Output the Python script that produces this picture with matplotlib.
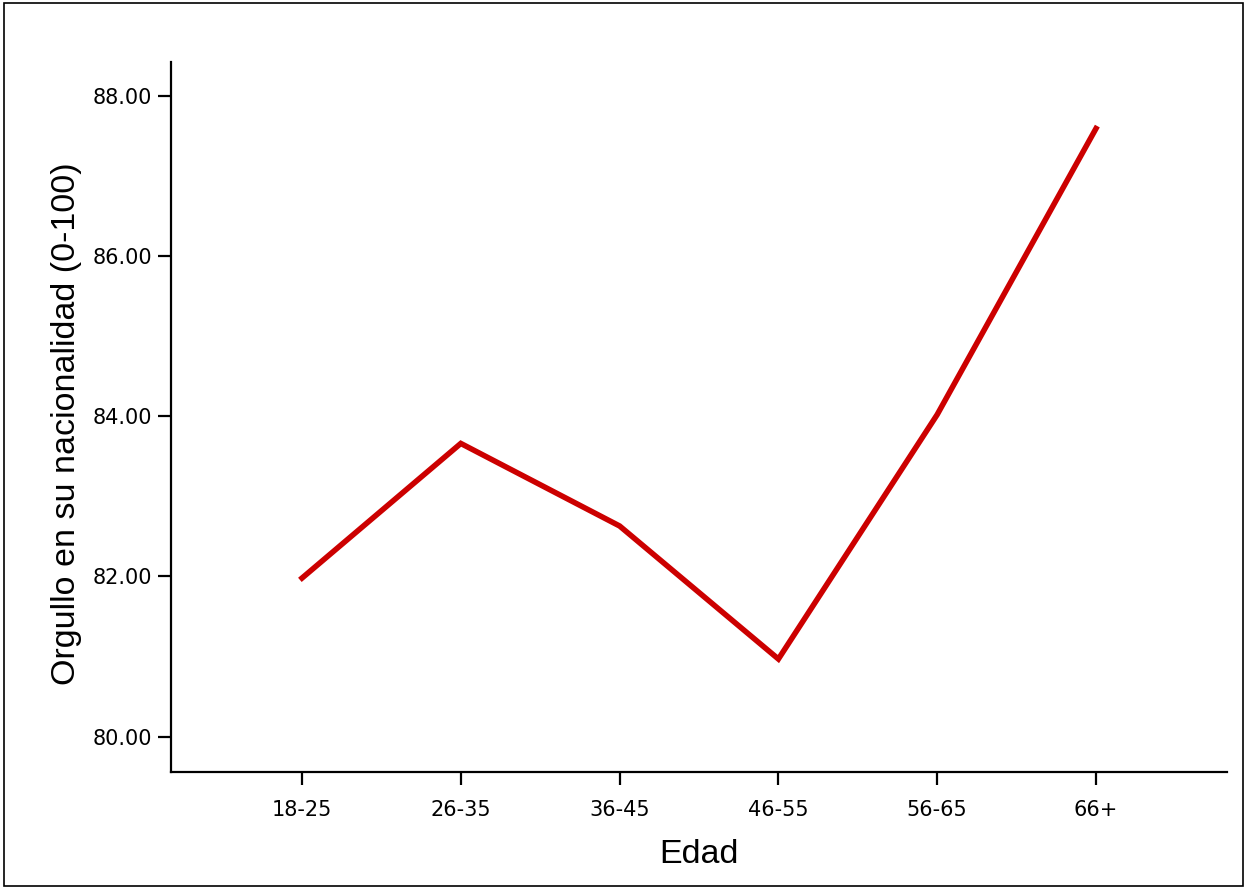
import matplotlib.pyplot as plt
from matplotlib.patches import Rectangle

# age groups and mean national pride score
edades = ['18-25', '26-35', '36-45', '46-55', '56-65', '66+']
orgullo = [81.98, 83.66, 82.63, 80.97, 84.02, 87.59]
y_ticks = [80, 82, 84, 86, 88]

fig = plt.figure(figsize=(12.47, 8.88), dpi=100)
ax = fig.add_axes([171/1247, 116/888, 1056/1247, 710/888])

x = list(range(len(edades)))
ax.plot(x, orgullo, color='#CC0000', linewidth=4.0, solid_joinstyle='miter')

ax.set_xlim(-0.825, 5.825)
ax.set_ylim(79.56, 88.42)
ax.set_xticks(x)
ax.set_xticklabels(edades)
ax.set_yticks(y_ticks)
ax.set_yticklabels(['%.2f' % v for v in y_ticks])

for side in ['top', 'right']:
    ax.spines[side].set_visible(False)
for side in ['left', 'bottom']:
    ax.spines[side].set_linewidth(1.6)

ax.tick_params(axis='both', direction='out', length=9.5, width=1.6,
               labelsize=15, colors='black')
ax.tick_params(axis='y', pad=4)
ax.tick_params(axis='x', pad=11)

ax.set_ylabel('Orgullo en su nacionalidad (0-100)', fontsize=24.5,
              family='Liberation Sans')
ax.set_xlabel('Edad', fontsize=24.5, family='Liberation Sans')
ax.yaxis.set_label_coords(-0.084, 0.49)
ax.xaxis.set_label_coords(0.5, -0.094)
ax.xaxis.label.set_va('top')

# outer frame around the whole picture
fig.patches.append(Rectangle((0.003, 0.002), 0.994, 0.995, transform=fig.transFigure,
                             fill=False, edgecolor='black', linewidth=1.2))

fig.savefig('out.png', dpi=100)
